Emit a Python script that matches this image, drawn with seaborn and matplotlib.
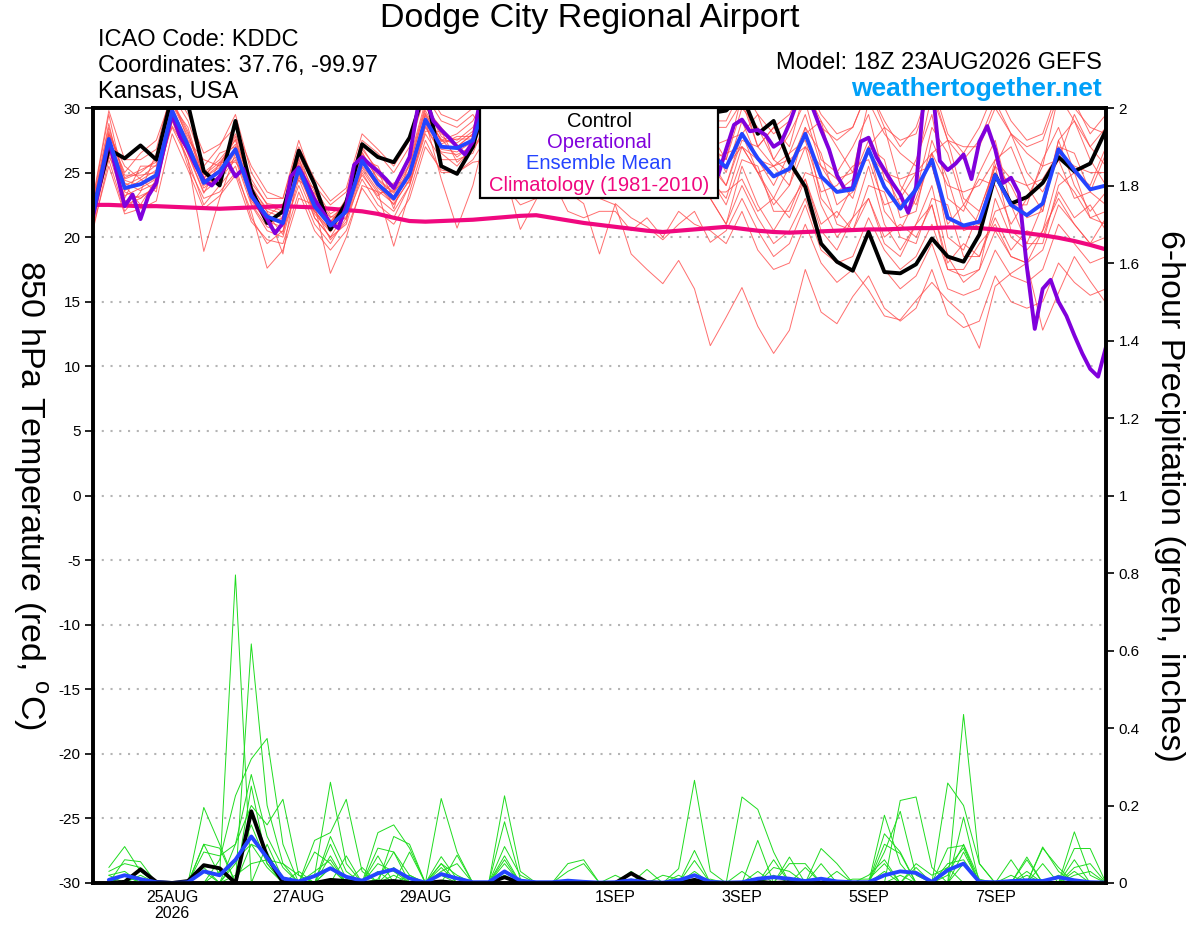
import numpy as np
import pandas as pd
import matplotlib
matplotlib.use("Agg")
import matplotlib.pyplot as plt
import seaborn as sns
from matplotlib.patches import Rectangle

sns.set_style("white")
plt.rcParams["font.family"] = ["Liberation Sans", "DejaVu Sans"]
plt.rcParams["text.color"] = "black"
plt.rcParams["xtick.color"] = "black"
plt.rcParams["ytick.color"] = "black"
plt.rcParams["axes.labelcolor"] = "black"

# ---------------- data ----------------
# forecast hours from 18Z 23AUG2026
hours = list(range(0, 385, 6))          # ensemble / control (6-hourly)
op_hours = list(range(0, 385, 3))       # operational (3-hourly)
p_hours = list(range(6, 385, 6))        # 6-hour precipitation

tick_hours = [30, 78, 126, 198, 246, 294, 342]
tick_labels = ["25AUG\n2026", "27AUG", "29AUG", "1SEP", "3SEP", "5SEP", "7SEP"]

ens_mean = [21.9, 27.6, 23.8, 24.1, 24.8, 29.8, 27.1, 24.2, 25.1, 26.8, 23.2, 21.6, 21.1, 25.3, 22.4, 20.9, 22.0, 25.9, 24.1, 23.0, 24.9, 29.1, 27.0, 26.9, 27.5,
            31.0, 30.0, 28.5, 29.0, 30.5, 29.0, 27.5, 27.0, 28.0, 29.5, 28.0, 27.0, 27.5, 28.5, 26.5,
            25.4, 28.0, 26.1, 24.7, 25.3, 28.0, 24.7, 23.5, 23.7, 26.8, 23.9, 22.2, 23.7, 26.0, 21.5, 20.9, 21.2, 24.8, 22.5, 21.7, 22.6, 26.8, 25.2, 23.7, 24.0]

control = [22.0, 26.8, 26.1, 27.1, 26.0, 31.0, 30.3, 25.1, 24.0, 29.0, 23.7, 21.1, 22.0, 26.7, 24.1, 20.6, 22.7, 27.2, 26.2, 25.8, 27.7, 31.5, 25.5, 24.9, 27.0,
           31.5, 31.0, 29.5, 30.0, 31.5, 30.0, 29.0, 28.5, 29.5, 31.0, 29.5, 28.5, 29.0, 30.5, 29.6,
           29.8, 31.0, 28.0, 29.0, 25.8, 23.9, 19.5, 18.1, 17.4, 20.4, 17.3, 17.2, 17.9, 19.9, 18.5, 18.1, 20.2, 24.8, 22.6, 23.1, 24.2, 26.2, 25.1, 25.7, 28.3]

operational = [21.6, 24.5, 27.5, 25.0, 22.4, 23.3, 21.4, 23.2, 24.2, 27.0,
               29.5, 27.8, 26.8, 25.5, 24.4, 24.0, 24.7, 25.8, 24.7, 25.3,
               23.3, 22.3, 21.4, 20.3, 21.1, 24.7, 25.4, 24.2, 22.9, 22.0,
               21.1, 20.7, 22.4, 25.6, 26.2, 25.6, 25.1, 24.5, 23.8, 25.0,
               26.2, 29.9, 30.8, 29.0, 28.3, 27.7, 27.0, 26.4, 27.4, 31.0,
               32.0, 31.5, 30.0, 29.0, 29.5, 30.5, 31.0, 30.0, 29.0, 28.5,
               29.0, 30.0, 31.0, 30.0, 29.0, 28.5, 28.0, 28.5, 29.5, 30.5,
               29.5, 28.5, 28.0, 28.5, 29.5, 30.0, 29.0, 27.5, 26.5,
               24.8, 26.8, 28.7, 29.1, 28.2, 28.3, 27.9, 27.0, 27.4, 28.8,
               30.5, 31.5, 29.9, 28.3, 26.8, 24.8, 23.7, 23.8, 27.4, 27.7,
               26.2, 25.2, 24.2, 23.3, 21.9, 23.9, 31.0, 32.0, 25.9, 25.2,
               25.7, 26.4, 24.5, 27.4, 28.6, 26.8, 24.2, 24.6, 23.4, 17.7,
               12.9, 16.0, 16.7, 15.0, 13.9, 12.4, 11.0, 9.8, 9.2, 11.5]

climatology = [22.5, 22.5, 22.45, 22.4, 22.4, 22.35, 22.3, 22.25, 22.2, 22.25, 22.3, 22.35, 22.4, 22.35, 22.3, 22.2, 22.1, 22.0, 21.8, 21.5,
               21.25, 21.2, 21.25, 21.3, 21.35, 21.45, 21.55, 21.65, 21.7, 21.5, 21.3, 21.1, 20.95, 20.8, 20.65, 20.5, 20.4, 20.5, 20.6, 20.7,
               20.8, 20.65, 20.5, 20.4, 20.35, 20.4, 20.45, 20.5, 20.55, 20.6, 20.6, 20.65, 20.7, 20.7, 20.75, 20.75, 20.7, 20.6, 20.45, 20.3,
               20.15, 19.95, 19.7, 19.4, 19.05]

mem01 = [22.5, 28.5, 24.5, 25.0, 26.0, 30.5, 28.0, 25.0, 26.0, 27.5, 24.0, 22.0, 21.5, 26.5, 23.0, 21.5, 22.5, 27.0, 25.0, 24.0, 26.0, 30.5, 28.0, 27.5, 28.5,
         31.0, 30.0, 28.5, 29.5, 31.0, 29.5, 28.0, 27.5, 28.5, 30.0, 28.5, 27.5, 28.0, 29.0, 27.0,
         27.5, 28.0, 29.5, 26.0, 25.0, 28.0, 29.0, 24.5, 23.0, 27.0, 28.5, 24.0, 22.5, 26.5, 27.5, 23.0, 22.0, 25.5, 28.0, 25.0, 23.5, 26.0, 29.5, 27.0, 25.5]
mem02 = [21.0, 26.5, 22.5, 23.0, 24.0, 29.0, 26.5, 23.5, 24.5, 26.0, 22.5, 20.5, 20.0, 24.5, 21.5, 20.0, 21.0, 25.0, 23.0, 22.0, 24.0, 28.0, 26.0, 26.0, 26.5,
         29.5, 28.0, 26.0, 27.0, 29.0, 27.0, 25.5, 25.0, 26.0, 28.0, 26.0, 25.0, 25.5, 26.5, 24.5,
         22.5, 26.0, 25.5, 22.0, 22.0, 25.0, 24.5, 21.0, 20.5, 24.0, 23.5, 20.0, 19.5, 23.0, 22.5, 18.5, 18.5, 22.0, 22.5, 19.5, 19.5, 24.0, 25.0, 21.5, 21.0]
mem03 = [22.0, 28.0, 25.5, 24.5, 23.5, 30.8, 27.5, 26.0, 25.5, 28.0, 24.5, 22.5, 22.0, 26.0, 23.5, 21.0, 23.0, 26.5, 24.5, 23.5, 25.5, 30.0, 28.5, 27.0, 28.0,
         32.0, 31.0, 29.5, 30.5, 32.0, 30.5, 29.0, 28.5, 29.5, 31.0, 29.5, 28.5, 29.0, 30.0, 28.0,
         26.0, 31.0, 27.0, 28.5, 27.0, 31.5, 29.0, 27.0, 25.0, 30.5, 28.0, 26.5, 25.5, 31.0, 27.5, 26.0, 27.5, 30.5, 28.0, 26.5, 25.5, 31.0, 29.0, 27.0, 28.5]
mem04 = [21.5, 27.0, 23.0, 25.5, 25.5, 28.5, 26.0, 22.5, 24.0, 25.5, 21.5, 19.5, 20.5, 24.0, 21.0, 19.5, 21.5, 24.5, 22.5, 21.5, 24.0, 28.5, 26.5, 25.5, 27.0,
         28.5, 25.0, 20.6, 22.9, 27.0, 25.5, 24.0, 23.5, 24.5, 26.5, 24.5, 23.5, 24.0, 25.0, 23.5,
         23.5, 24.5, 22.0, 23.0, 21.5, 24.5, 21.0, 22.0, 20.5, 23.0, 20.0, 21.0, 20.0, 22.5, 18.0, 19.5, 18.5, 21.5, 19.0, 20.5, 20.0, 23.5, 21.5, 22.5, 20.5]
mem05 = [22.8, 29.5, 24.0, 22.5, 24.5, 30.2, 28.5, 24.5, 26.5, 27.0, 23.0, 21.0, 21.5, 25.0, 22.0, 20.5, 22.5, 26.0, 25.5, 23.0, 25.0, 29.5, 27.5, 28.0, 29.0,
         31.5, 30.5, 29.0, 30.0, 31.5, 30.0, 28.5, 28.0, 29.0, 30.5, 29.0, 28.0, 28.5, 29.5, 27.5,
         25.0, 29.0, 26.0, 24.0, 26.5, 29.5, 25.5, 23.5, 24.5, 27.5, 25.0, 22.5, 23.5, 28.5, 26.5, 22.5, 21.0, 26.0, 27.0, 24.0, 22.0, 27.5, 29.0, 26.0, 24.0]
mem06 = [20.5, 26.0, 22.0, 23.5, 26.5, 29.5, 25.5, 23.0, 23.5, 25.0, 22.0, 17.6, 19.0, 23.0, 22.5, 17.2, 20.0, 24.0, 23.5, 19.3, 23.5, 27.5, 25.0, 25.0, 26.0,
         28.0, 26.5, 25.0, 26.0, 27.5, 25.0, 24.0, 23.0, 22.5, 18.7, 17.5, 16.4, 18.2, 16.0, 11.6,
         13.8, 16.1, 13.1, 11.0, 12.8, 17.5, 14.2, 13.3, 15.4, 17.0, 14.5, 13.5, 14.5, 17.5, 14.0, 13.0, 13.5, 17.0, 15.0, 14.5, 15.0, 18.0, 16.5, 15.5, 16.0]
mem07 = [22.2, 28.0, 25.0, 26.5, 27.5, 31.0, 29.0, 25.5, 27.0, 29.5, 25.0, 23.0, 23.0, 27.5, 24.0, 22.5, 23.5, 27.5, 26.5, 25.0, 27.0, 31.0, 29.0, 28.5, 29.5,
         27.5, 26.0, 24.5, 25.0, 26.5, 23.5, 22.6, 18.7, 22.6, 21.5, 20.8, 19.8, 21.0, 22.0, 19.6,
         20.5, 23.0, 20.5, 18.5, 19.5, 22.5, 19.0, 18.0, 18.5, 21.5, 19.0, 17.5, 18.5, 21.0, 17.5, 17.0, 17.5, 20.5, 18.5, 18.0, 19.0, 22.5, 21.0, 19.5, 20.0]
mem08 = [21.2, 27.5, 23.5, 23.0, 24.0, 29.0, 26.0, 18.9, 23.0, 26.5, 23.5, 22.0, 18.7, 25.5, 21.5, 20.0, 22.0, 25.5, 24.0, 22.5, 24.5, 29.0, 24.5, 20.7, 24.0,
         29.0, 27.5, 26.0, 27.0, 28.5, 26.5, 25.0, 24.5, 25.5, 27.0, 25.0, 24.0, 24.5, 25.5, 23.0,
         21.0, 24.0, 21.5, 19.5, 20.5, 23.0, 19.5, 18.0, 17.5, 15.9, 13.9, 13.6, 15.1, 16.5, 15.1, 14.0, 11.4, 16.2, 17.2, 18.0, 12.8, 15.7, 18.5, 16.6, 14.9]
mem09 = [22.4, 28.2, 24.8, 24.8, 25.0, 30.3, 27.8, 24.8, 25.8, 27.2, 23.8, 22.2, 21.8, 25.8, 23.2, 21.2, 22.8, 26.3, 24.8, 23.8, 25.6, 29.8, 27.5, 27.3, 28.2,
         32.5, 31.5, 30.0, 31.0, 32.5, 31.0, 29.5, 29.0, 30.0, 31.5, 30.0, 29.0, 29.5, 30.5, 28.5,
         28.5, 30.5, 27.0, 28.5, 29.5, 32.0, 28.5, 27.5, 28.5, 31.5, 29.0, 27.0, 28.5, 32.0, 28.0, 26.5, 28.5, 31.5, 29.0, 27.5, 28.0, 31.5, 30.5, 28.0, 29.5]
mem10 = [21.6, 26.8, 23.2, 23.8, 24.5, 29.2, 26.8, 23.8, 24.8, 26.2, 22.8, 21.2, 20.8, 24.8, 22.0, 20.6, 21.6, 25.4, 23.6, 22.6, 24.4, 28.6, 26.6, 26.4, 27.0,
         30.0, 29.0, 27.0, 28.0, 30.0, 28.0, 26.5, 26.0, 27.0, 29.0, 27.0, 26.0, 26.5, 27.5, 25.5,
         24.0, 28.0, 25.0, 23.0, 25.5, 28.5, 23.0, 21.5, 24.0, 27.0, 22.0, 20.5, 23.0, 26.5, 20.0, 19.0, 22.0, 25.5, 20.5, 19.5, 22.5, 27.5, 24.0, 22.0, 23.5]
mem11 = [20.8, 25.5, 21.8, 22.2, 22.8, 28.0, 25.2, 22.2, 23.2, 24.8, 21.2, 19.8, 19.5, 23.5, 20.5, 19.0, 20.5, 23.8, 22.0, 21.0, 23.0, 27.0, 25.2, 25.0, 25.8,
         26.0, 24.0, 22.5, 23.0, 24.5, 22.0, 21.5, 22.0, 22.0, 20.5, 21.5, 20.0, 22.0, 21.0, 20.5,
         19.5, 22.0, 19.0, 17.5, 18.0, 21.0, 18.0, 16.5, 17.5, 20.5, 17.5, 16.0, 17.0, 19.5, 16.0, 15.5, 16.0, 19.0, 17.0, 16.5, 17.5, 21.0, 19.5, 18.0, 18.5]
mem12 = [23.0, 29.8, 26.0, 26.0, 26.8, 31.5, 29.5, 26.5, 27.2, 28.5, 25.5, 23.5, 23.0, 27.0, 24.5, 22.8, 23.8, 28.0, 26.8, 25.5, 27.5, 31.5, 29.5, 29.0, 30.0,
         31.0, 30.0, 28.0, 29.0, 30.5, 29.0, 27.5, 27.0, 28.0, 29.5, 27.5, 26.5, 27.0, 28.0, 26.0,
         24.0, 27.5, 27.0, 25.5, 24.0, 28.5, 26.5, 22.5, 23.5, 27.0, 26.0, 21.5, 22.0, 27.5, 24.5, 20.5, 21.0, 25.5, 24.0, 21.5, 22.0, 27.0, 26.5, 23.5, 22.5]
mem13 = [21.8, 27.2, 24.2, 23.6, 24.2, 29.6, 27.0, 24.0, 24.6, 26.6, 23.4, 21.4, 21.4, 25.2, 22.8, 21.0, 21.8, 25.8, 23.8, 22.8, 24.8, 28.8, 26.8, 26.6, 27.4,
         30.5, 29.5, 27.5, 28.5, 30.0, 28.5, 27.0, 26.5, 27.5, 29.0, 27.5, 26.5, 27.0, 28.0, 26.0,
         26.5, 27.0, 25.0, 25.5, 26.5, 27.5, 23.5, 24.0, 25.5, 26.0, 22.5, 23.0, 25.0, 25.5, 21.0, 22.5, 24.5, 24.0, 21.0, 23.0, 25.5, 26.0, 23.0, 23.5, 26.5]
mem14 = [22.6, 28.8, 23.6, 24.4, 25.2, 30.0, 27.4, 24.6, 25.4, 27.6, 22.6, 20.8, 20.4, 26.2, 22.2, 19.8, 21.2, 26.6, 24.4, 23.4, 25.2, 29.4, 27.2, 27.8, 27.8,
         32.0, 31.0, 29.0, 30.0, 31.5, 30.0, 28.5, 28.0, 29.0, 30.5, 28.5, 27.5, 28.0, 29.0, 27.0,
         26.0, 30.0, 28.5, 26.0, 28.0, 30.5, 26.0, 25.0, 27.0, 29.5, 24.5, 23.5, 26.0, 29.5, 23.0, 22.0, 25.0, 27.5, 22.5, 22.5, 26.0, 28.5, 25.0, 24.0, 27.0]
mem15 = [21.4, 27.4, 24.6, 25.2, 25.8, 29.4, 26.4, 23.4, 25.8, 25.8, 24.2, 22.6, 22.4, 24.6, 23.8, 21.8, 22.6, 24.8, 23.2, 24.2, 24.2, 28.2, 28.2, 25.8, 26.8,
         28.5, 27.0, 25.5, 26.5, 28.0, 26.0, 24.5, 24.0, 25.0, 26.5, 24.5, 23.5, 24.0, 25.0, 23.0,
         21.0, 25.5, 22.5, 20.5, 22.5, 24.5, 20.5, 19.0, 21.5, 23.0, 19.5, 18.5, 21.0, 22.5, 17.5, 17.5, 19.5, 21.0, 18.5, 18.0, 20.5, 23.0, 21.0, 19.5, 21.5]
mem16 = [22.1, 27.9, 22.8, 23.2, 23.8, 30.6, 28.2, 24.2, 24.2, 27.0, 23.0, 21.8, 20.2, 25.6, 21.8, 20.4, 22.2, 26.8, 25.2, 22.2, 25.8, 30.2, 27.8, 27.0, 28.0,
         33.0, 32.0, 30.5, 31.5, 33.0, 31.5, 30.0, 29.5, 30.5, 32.0, 30.5, 29.5, 30.0, 31.0, 29.0,
         29.0, 31.5, 29.5, 28.0, 29.0, 32.0, 29.5, 28.0, 28.5, 31.5, 28.5, 27.5, 28.0, 31.5, 27.5, 27.0, 27.0, 30.0, 28.0, 27.0, 27.5, 31.0, 30.0, 28.5, 28.0]
mem17 = [21.7, 27.8, 24.0, 24.6, 25.6, 30.0, 27.2, 24.4, 25.2, 26.9, 23.6, 21.6, 21.0, 25.0, 22.6, 21.2, 22.4, 26.2, 24.2, 23.2, 25.0, 29.2, 27.6, 26.2, 27.2,
         30.0, 28.5, 26.5, 27.5, 29.5, 27.5, 26.0, 25.5, 26.5, 28.5, 26.0, 25.0, 26.0, 27.0, 24.5,
         23.0, 27.0, 25.0, 22.5, 24.0, 27.0, 22.5, 20.0, 21.5, 25.5, 21.0, 19.0, 21.0, 24.0, 18.5, 16.5, 17.5, 23.0, 20.0, 19.0, 20.5, 25.0, 23.5, 21.5, 22.0]
mem18 = [22.3, 26.2, 24.4, 24.0, 24.6, 28.6, 26.6, 24.6, 25.6, 27.8, 23.8, 21.6, 22.6, 24.4, 23.4, 21.6, 21.4, 25.2, 23.4, 23.6, 24.6, 29.6, 27.4, 27.6, 27.6,
         29.5, 29.0, 28.0, 28.5, 29.0, 28.5, 27.5, 27.0, 27.5, 28.5, 27.0, 26.5, 27.0, 27.5, 26.5,
         25.5, 27.0, 26.0, 25.5, 26.0, 27.0, 25.5, 24.5, 25.0, 26.5, 25.0, 24.5, 25.0, 26.5, 24.0, 23.5, 24.0, 26.0, 24.5, 24.0, 24.5, 26.5, 25.5, 25.0, 25.0]

members = [mem01, mem02, mem03, mem04, mem05, mem06, mem07, mem08, mem09,
           mem10, mem11, mem12, mem13, mem14, mem15, mem16, mem17, mem18]

# 6-hour precipitation (inches), hours 6..384
ctrl_precip = [0, 0.003, 0.035, 0.003, 0, 0.005, 0.046, 0.038, 0, 0.185, 0.068, 0.002, 0, 0, 0.008, 0.005,
               0, 0.003, 0.005, 0, 0, 0.004, 0, 0, 0, 0.015, 0, 0, 0, 0, 0, 0,
               0, 0.025, 0.002, 0, 0, 0.008, 0, 0, 0, 0.003, 0, 0.002, 0, 0, 0, 0,
               0, 0, 0, 0, 0, 0, 0, 0, 0, 0, 0, 0, 0, 0, 0, 0]
mean_precip = [0.008, 0.02, 0.01, 0.002, 0, 0.002, 0.03, 0.02, 0.06, 0.12, 0.065, 0.012, 0.004, 0.018, 0.038, 0.016,
               0.006, 0.025, 0.035, 0.012, 0.001, 0.023, 0.012, 0.002, 0.002, 0.03, 0.006, 0.002, 0.002, 0.006, 0.003, 0.001,
               0.002, 0.007, 0.002, 0.001, 0.007, 0.02, 0.003, 0.001, 0.002, 0.011, 0.015, 0.011, 0.005, 0.011, 0.004, 0.002,
               0.002, 0.02, 0.03, 0.026, 0.003, 0.033, 0.05, 0.003, 0.002, 0.005, 0.007, 0.005, 0.015, 0.007, 0.002, 0.001]
pcp01 = [0.04, 0.094, 0.03, 0, 0, 0, 0.195, 0.1, 0, 0.617, 0.2, 0.05, 0, 0.02, 0.26, 0.05,
         0, 0.01, 0.08, 0.02, 0, 0.218, 0.08, 0, 0, 0.225, 0.03, 0, 0, 0, 0, 0,
         0, 0.01, 0, 0, 0.037, 0.265, 0.03, 0, 0, 0.01, 0, 0, 0, 0, 0, 0,
         0, 0.175, 0.05, 0, 0, 0.258, 0.2, 0.05, 0, 0, 0.06, 0, 0, 0.132, 0.02, 0]
pcp02 = [0, 0.06, 0.055, 0, 0, 0, 0.1, 0.02, 0.795, 0, 0.1, 0.01, 0, 0.11, 0.13, 0.216,
         0.03, 0, 0, 0, 0, 0.068, 0.01, 0, 0, 0.158, 0.01, 0, 0, 0.05, 0.06, 0,
         0, 0, 0, 0, 0, 0, 0, 0, 0.222, 0.19, 0.08, 0, 0, 0, 0, 0,
         0, 0, 0.213, 0.222, 0.04, 0, 0.435, 0.05, 0, 0, 0, 0.093, 0.03, 0, 0, 0]
pcp03 = [0.02, 0.03, 0, 0, 0, 0, 0, 0.06, 0.225, 0.32, 0.373, 0.1, 0, 0, 0.1, 0.01,
         0, 0.13, 0.15, 0.09, 0, 0, 0.072, 0, 0, 0.094, 0.02, 0, 0, 0, 0, 0,
         0, 0, 0, 0, 0, 0.084, 0, 0, 0, 0.11, 0, 0.067, 0, 0.05, 0, 0,
         0, 0.127, 0.08, 0, 0, 0, 0.17, 0, 0, 0, 0.067, 0, 0, 0.089, 0.089, 0]
pcp04 = [0.03, 0.05, 0.04, 0, 0, 0, 0.08, 0.07, 0.1, 0.2, 0.15, 0.216, 0.02, 0, 0.07, 0,
         0, 0.09, 0.08, 0, 0, 0.05, 0, 0, 0, 0.05, 0, 0, 0, 0, 0, 0,
         0, 0, 0, 0, 0, 0.058, 0, 0, 0, 0, 0.06, 0, 0.04, 0, 0, 0,
         0, 0.1, 0.076, 0, 0, 0.09, 0.097, 0, 0, 0.02, 0, 0, 0, 0.04, 0.05, 0]
pcp05 = [0.01, 0, 0.02, 0, 0, 0, 0.04, 0, 0.05, 0.15, 0.05, 0, 0, 0.08, 0.05, 0,
         0.04, 0, 0.12, 0.1, 0, 0.04, 0, 0, 0, 0, 0, 0, 0, 0, 0, 0,
         0, 0, 0.035, 0, 0.02, 0, 0, 0, 0, 0, 0, 0, 0, 0.089, 0.05, 0,
         0.02, 0.06, 0, 0.04, 0, 0, 0.08, 0, 0, 0, 0, 0.05, 0, 0.06, 0, 0]
pcp06 = [0, 0.02, 0, 0, 0, 0, 0, 0.03, 0, 0.1, 0.08, 0, 0.03, 0, 0.04, 0,
         0, 0.05, 0.03, 0, 0, 0.03, 0.05, 0, 0, 0.03, 0, 0, 0, 0, 0, 0,
         0, 0.03, 0, 0, 0, 0.03, 0, 0, 0, 0, 0, 0.05, 0.05, 0, 0, 0,
         0, 0.03, 0, 0, 0, 0.05, 0.06, 0, 0, 0, 0.03, 0, 0.02, 0, 0, 0]
pcp07 = [0, 0, 0, 0, 0, 0, 0.1, 0.09, 0, 0.25, 0.05, 0, 0, 0, 0, 0.07,
         0, 0.07, 0, 0.08, 0, 0, 0, 0, 0, 0.07, 0, 0, 0, 0, 0, 0,
         0.02, 0, 0, 0, 0, 0.02, 0, 0, 0.03, 0, 0.02, 0, 0, 0, 0, 0,
         0, 0.08, 0.185, 0.02, 0, 0, 0.05, 0, 0, 0.06, 0, 0.09, 0.04, 0, 0, 0]
pcp08 = [0.01, 0.02, 0, 0, 0, 0, 0, 0, 0.06, 0.1, 0.04, 0, 0, 0.03, 0.06, 0,
         0, 0, 0.04, 0, 0, 0.02, 0, 0, 0, 0.02, 0, 0, 0, 0.03, 0.05, 0,
         0, 0, 0, 0.02, 0.01, 0, 0, 0, 0, 0.03, 0, 0, 0, 0, 0.03, 0,
         0, 0, 0, 0.05, 0.02, 0.04, 0, 0, 0, 0, 0, 0, 0, 0.02, 0.03, 0]
pcp09 = [0, 0, 0, 0, 0, 0, 0, 0, 0.1, 0.28, 0.12, 0.04, 0, 0, 0.04, 0,
         0, 0, 0.02, 0, 0, 0, 0, 0, 0, 0, 0, 0, 0, 0, 0, 0,
         0, 0, 0, 0, 0, 0, 0, 0, 0, 0, 0.04, 0.03, 0, 0, 0, 0.01,
         0.01, 0.05, 0, 0, 0, 0.02, 0.1, 0.01, 0, 0, 0, 0, 0, 0, 0, 0]
pcp10 = [0.02, 0, 0, 0, 0, 0, 0.03, 0, 0.02, 0.05, 0.06, 0.05, 0.02, 0, 0.12, 0.03,
         0, 0.03, 0, 0.02, 0, 0.05, 0.02, 0, 0, 0.06, 0, 0, 0, 0, 0, 0,
         0, 0, 0, 0, 0, 0, 0.01, 0, 0, 0, 0, 0, 0, 0, 0, 0,
         0, 0, 0.02, 0, 0, 0.04, 0.09, 0, 0, 0, 0.02, 0, 0, 0.03, 0, 0]

precip_members = [pcp01, pcp02, pcp03, pcp04, pcp05, pcp06, pcp07, pcp08, pcp09, pcp10]

# ---------------- tables ----------------
temp_df = pd.DataFrame(
    [(k, h, v) for k, m in enumerate(members) for h, v in zip(hours, m)],
    columns=["member", "hour", "temp"])
pcp_df = pd.DataFrame(
    [(k, h, v) for k, m in enumerate(precip_members) for h, v in zip(p_hours, m)],
    columns=["member", "hour", "precip"])

# ---------------- colours ----------------
RED = "#ff4a4a"
GREEN = "#1fdc1f"
PURPLE = "#8000dc"
BLUE = "#2444ff"
PINK = "#f0087f"
WEB = "#00a0f8"

W, H = 1200, 927
fig = plt.figure(figsize=(W / 100, H / 100), dpi=100)
L, R, T, B = 93, 1106, 108, 883
ax = fig.add_axes([L / W, 1 - B / H, (R - L) / W, (B - T) / H])
ax2 = ax.twinx()

# grid
for g in range(-25, 30, 5):
    ax.axhline(g, color="#b4b4b4", lw=1.5, ls=(0, (1, 3.2)), zorder=0)

# temperatures
sns.lineplot(data=temp_df, x="hour", y="temp", units="member", estimator=None,
             color=RED, lw=0.7, alpha=0.8, ax=ax, legend=False)
sns.lineplot(x=hours, y=climatology, color=PINK, lw=3.0, ax=ax)
sns.lineplot(x=hours, y=control, color="black", lw=2.8, ax=ax)
sns.lineplot(x=op_hours, y=operational, color=PURPLE, lw=2.8, ax=ax)
sns.lineplot(x=hours, y=ens_mean, color=BLUE, lw=2.8, ax=ax)

# precipitation
sns.lineplot(data=pcp_df, x="hour", y="precip", units="member", estimator=None,
             color=GREEN, lw=0.7, ax=ax2, legend=False)
sns.lineplot(x=p_hours, y=ctrl_precip, color="black", lw=2.8, ax=ax2)
sns.lineplot(x=p_hours, y=mean_precip, color=BLUE, lw=2.8, ax=ax2)

ax.set_xlim(0, 384)
ax.set_ylim(-30, 30)
ax2.set_ylim(0, 2)

ax.set_yticks(range(-30, 31, 5))
ax.set_yticklabels([str(v) for v in range(-30, 31, 5)])
ax2.set_yticks([i * 0.2 for i in range(11)])
ax2.set_yticklabels(["0", "0.2", "0.4", "0.6", "0.8", "1", "1.2", "1.4", "1.6", "1.8", "2"])
ax.set_xticks(tick_hours)
ax.set_xticklabels(tick_labels, linespacing=1.05)

ax.tick_params(axis="y", direction="out", length=6, width=1.2, labelsize=11, pad=3, left=True,
               colors="black")
ax2.tick_params(axis="y", direction="out", length=6, width=1.2, labelsize=11, pad=3, right=True,
                colors="black")
ax.tick_params(axis="x", length=0, labelsize=11.5, pad=5, colors="black")
ax.set_xlabel("")
ax.set_ylabel("")
ax2.set_ylabel("")
ax.grid(False)
ax2.grid(False)
for a in (ax, ax2):
    for s in a.spines.values():
        s.set_visible(True)
        s.set_color("black")
        s.set_linewidth(2.6)

# legend box
x0 = (480 - L) / (R - L)
x1 = (718 - L) / (R - L)
y0 = (B - 198) / (B - T)
ax2.add_patch(Rectangle((x0, y0), x1 - x0, 1 - y0, transform=ax2.transAxes,
                        facecolor="white", edgecolor="black", lw=1.6, zorder=20, clip_on=False))
xc = (599 - L) / (R - L)
for label, color, ypx in [("Control", "black", 121), ("Operational", PURPLE, 142),
                          ("Ensemble Mean", BLUE, 163), ("Climatology (1981-2010)", PINK, 185)]:
    ax2.text(xc, (B - ypx) / (B - T), label, color=color, fontsize=14.5,
             ha="center", va="center", transform=ax2.transAxes, zorder=21)

# texts
fig.text(590 / W, 1 - 19 / H, "Dodge City Regional Airport", ha="center", va="center", fontsize=24.5,
         color="black")
fig.text(98 / W, 1 - 40 / H, "ICAO Code: KDDC", ha="left", va="center", fontsize=17, color="black")
fig.text(98 / W, 1 - 66 / H, "Coordinates: 37.76, -99.97", ha="left", va="center", fontsize=17,
         color="black")
fig.text(98 / W, 1 - 92 / H, "Kansas, USA", ha="left", va="center", fontsize=17, color="black")
fig.text(1102 / W, 1 - 63 / H, "Model: 18Z 23AUG2026 GEFS", ha="right", va="center", fontsize=17,
         color="black")
fig.text(1102 / W, 1 - 89 / H, "weathertogether.net", ha="right", va="center", fontsize=19,
         fontweight="bold", color=WEB)
fig.text(30 / W, 1 - 495 / H, "850 hPa Temperature (red, $^{\\mathregular{o}}$C)", rotation=-90,
         ha="center", va="center", fontsize=24.5, color="black")
fig.text(1170 / W, 1 - 496 / H, "6-hour Precipitation (green, inches)", rotation=-90,
         ha="center", va="center", fontsize=24.5, color="black")

fig.savefig("out.png", dpi=100)
